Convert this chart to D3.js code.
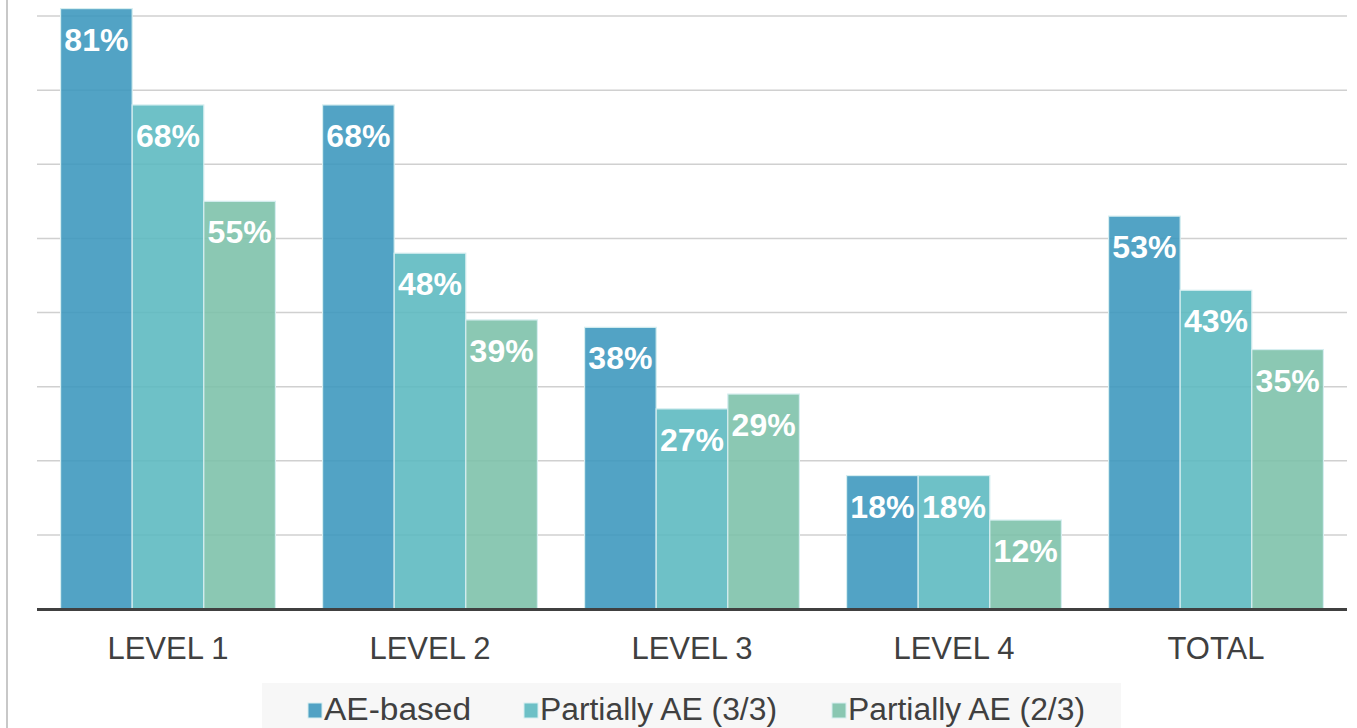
<!DOCTYPE html>
<html>
<head>
<meta charset="utf-8">
<script src="https://cdn.jsdelivr.net/npm/d3@7"></script>
<style>
  html, body { margin: 0; padding: 0; background: #fff; }
  svg { display: block; font-family: "Liberation Sans", Arial, sans-serif; }
</style>
</head>
<body>
<svg id="chart" width="1357" height="728"></svg>
<script>
'use strict';

// chart data
const categories = ['LEVEL 1', 'LEVEL 2', 'LEVEL 3', 'LEVEL 4', 'TOTAL'];
const seriesNames = ['AE-based', 'Partially AE (3/3)', 'Partially AE (2/3)'];
const aeBased = [81, 68, 38, 18, 53];
const partial33 = [68, 48, 27, 18, 43];
const partial23 = [55, 39, 29, 12, 35];
const gridTicks = [10, 20, 30, 40, 50, 60, 70, 80];

const seriesValues = [aeBased, partial33, partial23];
const colors = ['#3a96bd', '#5ab8bf', '#7bc0a9'];

const svg = d3.select('#chart');
const plot = { left: 37, right: 1347, top: 16, bottom: 609 };

const x0 = d3.scaleBand()
  .domain(categories)
  .range([plot.left, plot.right])
  .paddingInner(0.18)
  .paddingOuter(0.09);
const x1 = d3.scaleBand()
  .domain(d3.range(seriesNames.length))
  .range([0, x0.bandwidth()])
  .padding(0);
const y = d3.scaleLinear().domain([0, 80]).range([plot.bottom, plot.top]);

// left border line
svg.append('line')
  .attr('x1', 7).attr('x2', 7)
  .attr('y1', 0).attr('y2', 728)
  .attr('stroke', '#c8c8c8')
  .attr('stroke-width', 2);

// gridlines
svg.append('g')
  .selectAll('line')
  .data(gridTicks)
  .join('line')
  .attr('x1', plot.left)
  .attr('x2', plot.right)
  .attr('y1', (d) => y(d))
  .attr('y2', (d) => y(d))
  .attr('stroke', '#d0d0d0')
  .attr('stroke-width', 1.5);

// bars
const rows = [];
categories.forEach((c, ci) => {
  seriesValues.forEach((vals, si) => {
    rows.push({ cat: c, s: si, v: vals[ci] });
  });
});

const barG = svg.append('g');
barG.selectAll('rect')
  .data(rows)
  .join('rect')
  .attr('x', (d) => x0(d.cat) + x1(d.s))
  .attr('y', (d) => y(d.v))
  .attr('width', x1.bandwidth())
  .attr('height', (d) => y(0) - y(d.v))
  .attr('fill', (d) => colors[d.s])
  .attr('fill-opacity', 0.88)
  .attr('stroke', '#d6eef0')
  .attr('stroke-width', 1.2);

barG.selectAll('text')
  .data(rows)
  .join('text')
  .attr('x', (d) => x0(d.cat) + x1(d.s) + x1.bandwidth() / 2)
  .attr('y', (d) => y(d.v) + 42)
  .attr('text-anchor', 'middle')
  .attr('fill', '#fff')
  .attr('font-weight', 'bold')
  .attr('font-size', 32)
  .text((d) => `${d.v}%`);

// baseline
svg.append('line')
  .attr('x1', plot.left).attr('x2', plot.right)
  .attr('y1', plot.bottom + 0.5).attr('y2', plot.bottom + 0.5)
  .attr('stroke', '#404040')
  .attr('stroke-width', 3);

// category labels
svg.append('g')
  .selectAll('text')
  .data(categories)
  .join('text')
  .attr('x', (d) => x0(d) + x0.bandwidth() / 2)
  .attr('y', 659)
  .attr('text-anchor', 'middle')
  .attr('fill', '#404040')
  .attr('font-size', 31)
  .text((d) => d);

// legend
const legend = svg.append('g');
legend.append('rect')
  .attr('x', 262).attr('y', 683)
  .attr('width', 859).attr('height', 50)
  .attr('fill', '#f7f7f7');

const legendX = [308, 524, 832];
const item = legend.selectAll('g.item')
  .data(seriesNames)
  .join('g')
  .attr('class', 'item')
  .attr('transform', (d, i) => `translate(${legendX[i]},0)`);
item.append('rect')
  .attr('x', 0).attr('y', 703)
  .attr('width', 14).attr('height', 15)
  .attr('fill', (d, i) => colors[i])
  .attr('fill-opacity', 0.88)
  .attr('stroke', '#d6eef0')
  .attr('stroke-width', 1);
item.append('text')
  .attr('x', 16)
  .attr('y', 720)
  .attr('fill', '#404040')
  .attr('font-size', 31)
  .attr('textLength', (d, i) => [147, 237, 237][i])
  .attr('lengthAdjust', 'spacingAndGlyphs')
  .text((d) => d);
</script>
</body>
</html>
